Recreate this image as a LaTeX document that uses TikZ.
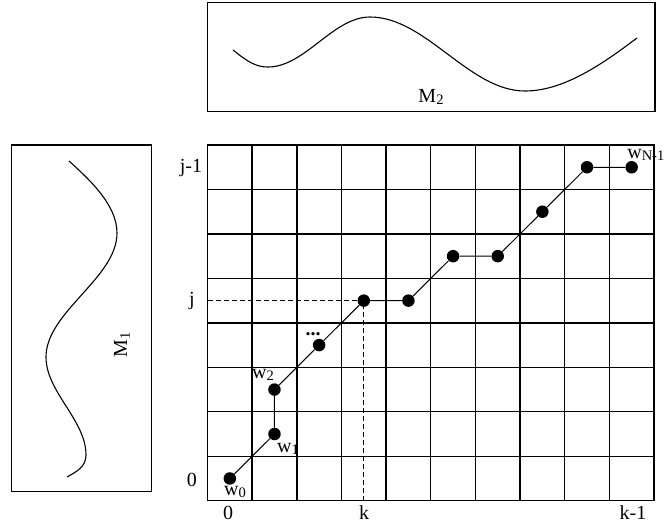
\documentclass[tikz,border=0pt]{standalone}
\usepackage{fontspec}
\setmainfont{Liberation Serif}
\newcommand{\lsub}[1]{\raisebox{-0.3ex}{\fontsize{14.5}{15}\selectfont #1}}
\begin{document}
\begin{tikzpicture}[x=1pt,y=-1pt,
  lbl/.style={font=\fontsize{20}{24}\selectfont, inner sep=0pt},
  dot/.style={circle, fill=black, minimum size=12.5pt, inner sep=0pt},
  frame/.style={line width=1.3pt},
  gridline/.style={line width=1.4pt},
  curve/.style={line width=1.1pt},
  link/.style={line width=1pt},
  guide/.style={dash pattern=on 5pt off 3pt, line width=0.9pt}]
\useasboundingbox (0,0) rectangle (665,523);
% top box
\draw[frame] (207.3,2.7) rectangle (655,111.7);
\draw[curve] (233,50) .. controls (248,62) and (256,67) .. (268,67)
  .. controls (305,67) and (333,17) .. (370,17)
  .. controls (426,17) and (469,91) .. (525,91)
  .. controls (565,91) and (605,62) .. (637,38);
\node[lbl] (m2) at (431,97) {M\lsub{2}};
% left box
\draw[frame] (11.7,145) rectangle (151.7,491.7);
\draw[curve] (69,161) .. controls (90,180) and (117,205) .. (117,233)
  .. controls (117,278) and (46,312) .. (46,357)
  .. controls (46,392) and (86,420) .. (86,455)
  .. controls (86,467) and (76,472) .. (67,477);
\node[lbl, rotate=90] (m1) at (122,345) {M\lsub{1}};
% grid
\begin{scope}[shift={(207.5,500.7)}, x=44.65pt, y=44.46pt]
  \foreach \i in {0,...,10} \draw[gridline] (\i,0) -- (\i,8);
  \foreach \j in {0,...,8} \draw[gridline, line cap=rect] (0,\j) -- (10,\j);
  \node[dot] (w0) at (0.5,0.5) {};
  \node[dot] (w1) at (1.5,1.5) {};
  \node[dot] (w2) at (1.5,2.5) {};
  \node[dot] (w3) at (2.5,3.5) {};
  \node[dot] (w4) at (3.5,4.5) {};
  \node[dot] (w5) at (4.5,4.5) {};
  \node[dot] (w6) at (5.5,5.5) {};
  \node[dot] (w7) at (6.5,5.5) {};
  \node[dot] (w8) at (7.5,6.5) {};
  \node[dot] (w9) at (8.5,7.5) {};
  \node[dot] (w10) at (9.5,7.5) {};
  \draw[link] (w0) -- (w1) -- (w2) -- (w3) -- (w4) -- (w5) -- (w6) -- (w7) -- (w8) -- (w9) -- (w10);
  \coordinate (jl) at (0,4.5);
  \coordinate (kb) at (3.5,0);
  \draw[guide] (jl) -- (w4.center) -- (kb);
  \node[lbl] (y0) at (-0.35,0.47) {0};
  \node[lbl] (yj) at (-0.35,4.5) {j};
  \node[lbl] (yj1) at (-0.37,7.48) {j-1};
\end{scope}
\node[lbl, anchor=base] (x0) at (228,519) {0};
\node[lbl, anchor=base] (xk) at (364,519) {k};
\node[lbl, anchor=base] (xk1) at (633,519) {k-1};
\node[lbl] (lw0) at (235,492) {w\lsub{0}};
\node[lbl] (lw1) at (288,449) {w\lsub{1}};
\node[lbl] (lw2) at (263,375) {w\lsub{2}};
\node[lbl, font=\fontsize{20}{24}\selectfont\bfseries] (ldots) at (313,334) {...};
\node[lbl, anchor=east] (lwn) at (664.5,155) {w\lsub{N-1}};
\end{tikzpicture}
\end{document}
